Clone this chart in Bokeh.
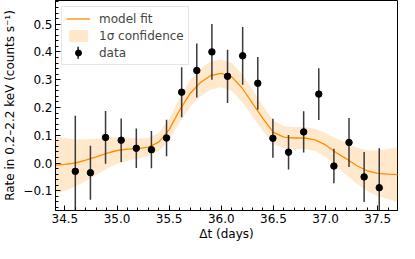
import numpy as np
from bokeh.plotting import figure
from bokeh.models import (ColumnDataSource, FixedTicker, CustomJSTickFormatter, Range1d,
                          Legend, LegendItem)
from bokeh.embed import file_html
from bokeh.resources import INLINE

# ---- data ----
t_data = [34.60, 34.745, 34.89, 35.04, 35.185, 35.33, 35.475, 35.62, 35.765, 35.91, 36.06,
          36.205, 36.35, 36.495, 36.645, 36.79, 36.935, 37.08, 37.225, 37.37, 37.515]
rate_data = [-0.030, -0.035, 0.092, 0.082, 0.053, 0.048, 0.090, 0.255, 0.333, 0.400, 0.312,
             0.386, 0.287, 0.089, 0.039, 0.112, 0.248, -0.011, 0.074, -0.050, -0.089]
rate_err = [0.200, 0.097, 0.095, 0.078, 0.071, 0.067, 0.066, 0.090, 0.097, 0.100, 0.096,
            0.104, 0.095, 0.070, 0.062, 0.074, 0.093, 0.062, 0.088, 0.090, 0.142]

t_model = [34.4, 34.5, 34.6, 34.7, 34.8, 34.9, 35.0, 35.1, 35.2, 35.3, 35.4, 35.5, 35.6,
           35.7, 35.8, 35.9, 36.0, 36.1, 36.2, 36.3, 36.4, 36.5, 36.6, 36.7, 36.8, 36.9,
           37.0, 37.1, 37.2, 37.3, 37.4, 37.5, 37.6, 37.7]
rate_model = [-0.008, -0.005, 0.000, 0.010, 0.022, 0.035, 0.045, 0.050, 0.052, 0.057, 0.075,
              0.120, 0.190, 0.250, 0.290, 0.315, 0.323, 0.310, 0.270, 0.215, 0.160, 0.110,
              0.093, 0.090, 0.090, 0.083, 0.065, 0.038, 0.015, -0.010, -0.028, -0.037,
              -0.040, -0.042]
model_sigma = [0.105, 0.095, 0.085, 0.075, 0.065, 0.056, 0.048, 0.042, 0.036, 0.033, 0.033,
               0.038, 0.043, 0.048, 0.050, 0.050, 0.050, 0.050, 0.050, 0.048, 0.045, 0.042,
               0.040, 0.040, 0.040, 0.040, 0.042, 0.050, 0.058, 0.065, 0.073, 0.082,
               0.090, 0.100]

x_ticks = [34.5, 35.0, 35.5, 36.0, 36.5, 37.0, 37.5]
y_ticks = [-0.1, 0.0, 0.1, 0.2, 0.3, 0.4, 0.5]

FONT = "DejaVu Sans"
ORANGE = "#ff8c00"

W, H = 399, 243
BT, BB, BL, BR = 0, 31, 49, 2
frame_w = W - BL - BR
frame_h = H - BT - 32
X0, X1 = 34.41, 37.69
Y0, Y1 = -0.171, 0.585

p = figure(width=W, height=H, output_backend="svg", toolbar_location=None,
           x_range=Range1d(X0, X1), y_range=Range1d(Y0, Y1),
           min_border_left=BL, min_border_right=BR, min_border_top=BT, min_border_bottom=BB)
p.xgrid.visible = False
p.ygrid.visible = False
p.outline_line_color = "black"
p.outline_line_width = 1
p.outline_line_alpha = 1

dsrc = ColumnDataSource(dict(t=t_data, r=rate_data,
                             lo=list(np.array(rate_data) - np.array(rate_err)),
                             hi=list(np.array(rate_data) + np.array(rate_err))))
msrc = ColumnDataSource(dict(t=t_model, r=rate_model,
                             lo=list(np.array(rate_model) - np.array(model_sigma)),
                             hi=list(np.array(rate_model) + np.array(model_sigma))))

band_r = p.varea(x="t", y1="lo", y2="hi", source=msrc, fill_color=ORANGE, fill_alpha=0.2)
line_r = p.line(x="t", y="r", source=msrc, line_color=ORANGE, line_width=1.3)
err_r = p.segment(x0="t", y0="lo", x1="t", y1="hi", source=dsrc, line_color="#3a3a3a",
                  line_width=1.5)
dot_r = p.scatter(x="t", y="r", source=dsrc, size=6.5, fill_color="black", line_color="black")

fmt = CustomJSTickFormatter(code="""
const v = Math.abs(tick) < 1e-9 ? 0 : tick;
return v.toFixed(1).replace('-', '\u2212');
""")

p.xaxis.ticker = FixedTicker(ticks=x_ticks,
                             minor_ticks=[round(v, 2) for v in np.arange(34.4, 37.75, 0.1)])
p.yaxis.ticker = FixedTicker(ticks=y_ticks,
                             minor_ticks=[round(v, 3) for v in np.arange(-0.16, 0.59, 0.02)])
p.xaxis.formatter = fmt
p.yaxis.formatter = fmt

for ax in (p.xaxis[0], p.yaxis[0]):
    ax.major_tick_in = 5
    ax.major_tick_out = 0
    ax.minor_tick_in = 3
    ax.minor_tick_out = 0
    ax.major_tick_line_color = "black"
    ax.minor_tick_line_color = "black"
    ax.axis_line_color = "black"
    ax.major_label_text_font = FONT
    ax.major_label_text_font_size = "12px"
    ax.major_label_text_color = "black"
    ax.axis_label_text_font = FONT
    ax.axis_label_text_font_size = "12px"
    ax.axis_label_text_font_style = "normal"
    ax.axis_label_text_color = "black"

p.xaxis.axis_label = "\u0394t (days)"
p.yaxis.axis_label = "Rate in 0.2\u20132.2 keV (counts s\u207b\u00b9)"
p.xaxis.major_label_standoff = 3
p.xaxis.axis_label_standoff = 1
p.yaxis.major_label_standoff = 3
p.yaxis.axis_label_standoff = 3

legend = Legend(items=[LegendItem(label="model fit", renderers=[line_r]),
                       LegendItem(label="1\u03c3 confidence", renderers=[band_r]),
                       LegendItem(label="data", renderers=[dot_r])],
                location="top_left", margin=6, padding=4, spacing=2,
                glyph_width=24, glyph_height=15, label_height=15, label_standoff=9,
                label_text_font=FONT, label_text_font_size="12px",
                border_line_color="#cccccc", border_line_width=1,
                background_fill_alpha=0.0)
p.add_layout(legend)

# vertical error-bar stroke for the "data" legend entry (placed from the layout geometry)
gx = 6 + 1 + 4 + 12              # px from frame left
gy = 6 + 1 + 4 + 2 * 17 + 7.5    # px from frame top
lx = X0 + gx * (X1 - X0) / frame_w
ly = Y1 - gy * (Y1 - Y0) / frame_h
dy = 6 * (Y1 - Y0) / frame_h
leg_err = p.segment(x0=[lx], y0=[ly - dy], x1=[lx], y1=[ly + dy], line_color="#1a1a1a",
                    line_width=1.5)

open("out.html", "w").write(file_html(p, INLINE))
